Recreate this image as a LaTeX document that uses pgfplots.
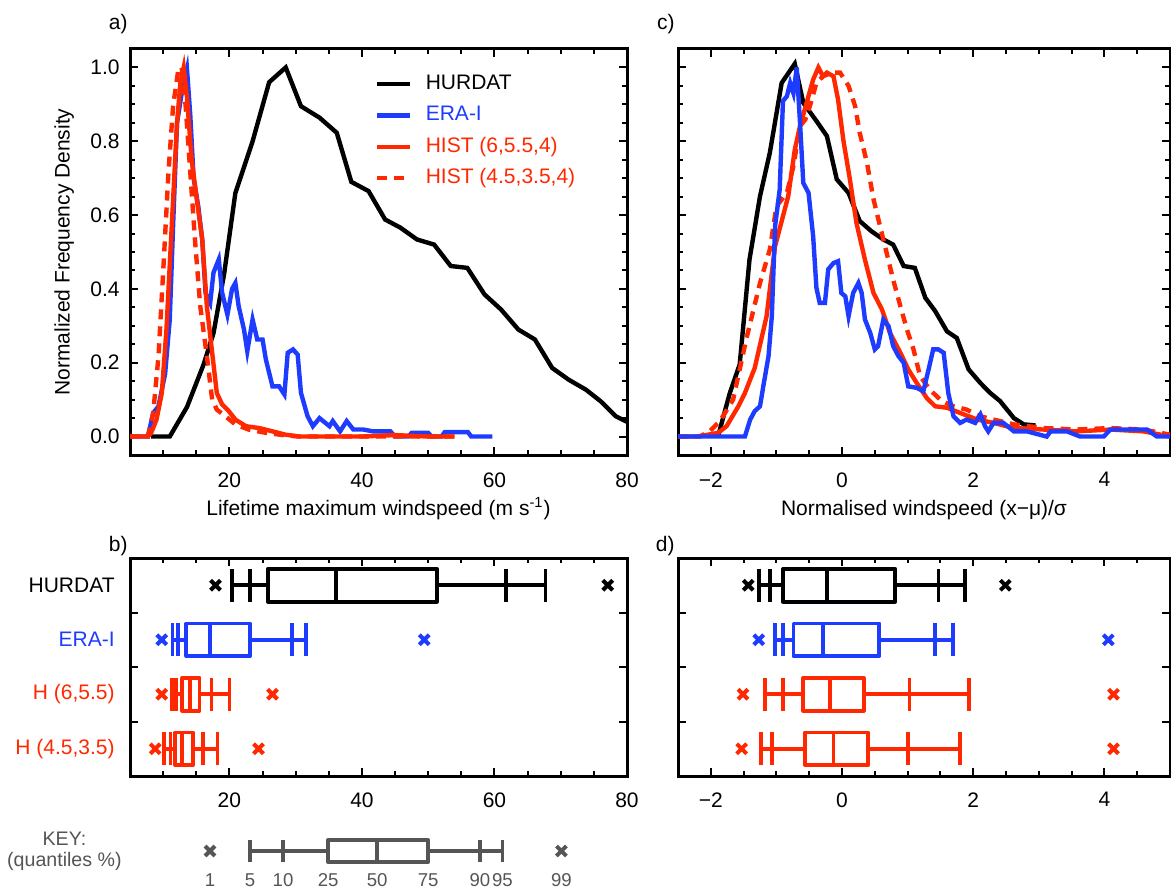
\documentclass[border=0pt]{standalone}
\usepackage{fontspec}
\setmainfont{Liberation Sans}
\usepackage{pgfplots}
\pgfplotsset{compat=1.18}

\definecolor{eraBlue}{RGB}{30,60,255}
\definecolor{histRed}{RGB}{255,40,0}
\definecolor{keyGray}{RGB}{85,85,85}

\pgfplotsset{
  /pgf/number format/assume math mode=true,
  panel/.style={scale only axis, anchor=south west,
    axis line style={line width=1.5pt},
    tick style={line width=1pt, black},
    tick align=inside, major tick length=4pt, minor tick length=2.5pt,
    clip mode=individual},
  curve/.style={line width=2.2pt},
}

% quantile box: colour, row, {q1,q5,q10,q25,q50,q75,q90,q95,q99}
\def\hh{0.3}
\def\qlw{1.9pt}
\def\setq#1,#2,#3,#4,#5,#6,#7,#8,#9\qend{\def\qa{#1}\def\qb{#2}\def\qc{#3}\def\qd{#4}\def\qe{#5}\def\qf{#6}\def\qg{#7}\def\qh{#8}\def\qi{#9}}
\newcommand\qbox[3]{%
  \setq#3\qend
  \pgfmathsetmacro\qlo{#2-\hh}%
  \pgfmathsetmacro\qup{#2+\hh}%
  \edef\qtmp{%
    \noexpand\addplot[#1, line width=\qlw, unbounded coords=jump] coordinates {(\qb,#2) (\qd,#2) (\qd,nan) (\qf,#2) (\qh,#2) (\qh,nan) (\qb,\qlo) (\qb,\qup) (\qb,nan) (\qc,\qlo) (\qc,\qup) (\qc,nan) (\qg,\qlo) (\qg,\qup) (\qg,nan) (\qh,\qlo) (\qh,\qup) (\qh,nan) (\qe,\qlo) (\qe,\qup)};%
    \noexpand\addplot[#1, line width=\qlw, line join=round] coordinates {(\qd,\qlo) (\qf,\qlo) (\qf,\qup) (\qd,\qup)} -- cycle;%
    \noexpand\addplot[#1, only marks, mark=x, mark size=3.5pt, mark options={line width=2pt}] coordinates {(\qa,#2) (\qi,#2)};%
  }\qtmp}

\begin{document}
\fontsize{10.5}{12.6}\selectfont
\begin{tikzpicture}
\useasboundingbox (0,0) rectangle (585.5pt,445pt);

% ---------- a) ----------
\begin{axis}[panel, at={(65pt,217.5pt)}, width=248.5pt, height=203pt,
  xmin=5, xmax=80, ymin=-0.05, ymax=1.05,
  xtick={20,40,60,80}, minor xtick={5,10,...,80},
  ytick={0,0.2,0.4,0.6,0.8,1.0}, yticklabels={0.0,0.2,0.4,0.6,0.8,1.0},
  minor ytick={0,0.05,...,1.01},
  xticklabel style={yshift=-5pt}, yticklabel style={xshift=-1.5pt},
  xlabel={Lifetime maximum windspeed (m s\textsuperscript{-1})},
  xlabel style={at={(axis description cs:0.5,0)}, anchor=base, yshift=-30pt},
  ylabel={Normalized Frequency Density},
  ylabel style={at={(axis description cs:-0.1217,0.5)}, anchor=base},
  legend cell align=left,
  legend image code/.code={\draw[#1] (0pt,0pt) -- (16.5pt,0pt);},
  legend style={at={(0.491,0.948)}, anchor=north west, draw=none, fill=none,
    inner sep=0pt, row sep=2.2pt, column sep=5.5pt,
    nodes={inner sep=1.5pt, text height=0.75em, text depth=0.25em}},
]
\addplot[curve, black] coordinates {(8.2,0) (11.0,0) (13.6,0.08) (16.1,0.195) (17.6,0.28) (19.2,0.44) (20.9,0.66) (23.5,0.80) (26.0,0.96) (28.5,1.0) (30.8,0.895) (33.6,0.864) (36.2,0.823) (38.4,0.69) (41.0,0.665) (43.5,0.588) (45.8,0.566) (48.3,0.534) (50.9,0.52) (53.4,0.462) (55.9,0.457) (58.5,0.385) (61.0,0.344) (63.6,0.29) (66.1,0.263) (68.7,0.186) (71.2,0.154) (73.8,0.127) (76.0,0.096) (78.3,0.055) (80,0.04)};
\addlegendentry{HURDAT}
\addplot[curve, eraBlue] coordinates {(5,0) (7.7,0) (8.5,0.064) (9.3,0.082) (10.3,0.17) (11.0,0.317) (11.5,0.57) (12.1,0.85) (12.8,0.93) (13.6,0.995) (14.1,0.87) (14.6,0.70) (15.3,0.624) (15.9,0.534) (16.4,0.389) (17.1,0.362) (17.6,0.444) (18.4,0.48) (18.9,0.39) (19.7,0.33) (20.4,0.40) (20.9,0.416) (21.4,0.353) (22.2,0.29) (22.7,0.231) (23.5,0.317) (24.2,0.263) (25.0,0.263) (25.5,0.209) (26.5,0.136) (27.5,0.136) (28.3,0.114) (28.8,0.227) (29.6,0.236) (30.3,0.222) (30.8,0.118) (31.8,0.055) (32.6,0.028) (33.6,0.05) (35.1,0.028) (35.6,0.042) (36.7,0.014) (37.7,0.042) (38.7,0.019) (40.2,0.019) (41.7,0.014) (44.3,0.014) (45.0,0) (47,0) (47.5,0.01) (50,0.01) (50.5,0) (52,0) (52.5,0.012) (56,0.012) (56.5,0) (59.7,0)};
\addlegendentry{\textcolor{eraBlue}{ERA-I}}
\addplot[curve, histRed] coordinates {(5,0) (7.7,0) (8.2,0.01) (9.0,0.046) (9.8,0.118) (10.5,0.29) (11.3,0.57) (12.1,0.85) (12.6,0.958) (13.1,1.0) (13.6,0.92) (14.3,0.75) (15.1,0.64) (15.9,0.534) (16.6,0.353) (17.4,0.227) (18.1,0.118) (18.9,0.087) (19.9,0.069) (20.9,0.046) (22.5,0.028) (24.5,0.023) (26.5,0.014) (28.5,0.005) (30.6,0) (40,0) (45,0.004) (50,0) (54,0)};
\addlegendentry{\textcolor{histRed}{HIST (6,5.5,4)}}
\addplot[curve, histRed, dash pattern=on 5pt off 3.5pt] coordinates {(5,0) (7.7,0) (8.5,0.064) (9.3,0.218) (10.0,0.444) (10.8,0.715) (11.5,0.895) (12.3,0.995) (12.8,1.0) (13.4,0.895) (14.1,0.715) (14.8,0.534) (15.6,0.353) (16.6,0.218) (17.4,0.1) (18.1,0.073) (19.4,0.055) (20.9,0.033) (22.9,0.019) (25.5,0.01) (28.5,0.003) (30.6,0) (54,0)};
\addlegendentry{\textcolor{histRed}{HIST (4.5,3.5,4)}}
\node[anchor=base east, inner sep=0pt, xshift=-1pt, yshift=9.5pt] at (rel axis cs:0,1) {a)};
\end{axis}

% ---------- c) ----------
\begin{axis}[panel, at={(339pt,217.5pt)}, width=246pt, height=203pt,
  xmin=-2.5, xmax=5, ymin=-0.05, ymax=1.05,
  xtick={-2,0,2,4}, xticklabels={−2,0,2,4}, minor xtick={-2.5,-2,...,5},
  ytick={0,0.2,0.4,0.6,0.8,1.0}, yticklabels={},
  minor ytick={0,0.05,...,1.01},
  xticklabel style={yshift=-5pt},
  xlabel={Normalised windspeed (x−μ)/σ},
  xlabel style={at={(axis description cs:0.5,0)}, anchor=base, yshift=-30pt},
]
\addplot[curve, black] coordinates {(-1.89,0) (-1.71,0.118) (-1.56,0.195) (-1.41,0.48) (-1.25,0.651) (-1.10,0.769) (-0.92,0.958) (-0.72,1.01) (-0.59,0.904) (-0.39,0.855) (-0.23,0.814) (-0.08,0.697) (0.10,0.66) (0.27,0.584) (0.45,0.556) (0.63,0.534) (0.78,0.52) (0.94,0.462) (1.11,0.457) (1.27,0.376) (1.42,0.34) (1.60,0.285) (1.75,0.267) (1.93,0.182) (2.11,0.145) (2.26,0.118) (2.41,0.096) (2.62,0.05) (2.77,0.033) (2.95,0.03)};
\addplot[curve, histRed] coordinates {(-2.5,0) (-2.2,0) (-1.89,0.01) (-1.76,0.028) (-1.58,0.082) (-1.48,0.118) (-1.33,0.186) (-1.15,0.326) (-1.02,0.516) (-0.82,0.651) (-0.72,0.777) (-0.64,0.841) (-0.54,0.904) (-0.44,0.967) (-0.36,1.0) (-0.29,0.976) (-0.23,0.986) (-0.13,0.976) (-0.06,0.913) (0.02,0.804) (0.12,0.697) (0.22,0.579) (0.35,0.479) (0.48,0.389) (0.61,0.344) (0.73,0.281) (0.89,0.227) (1.01,0.182) (1.14,0.145) (1.29,0.105) (1.42,0.082) (1.60,0.078) (1.80,0.064) (2.06,0.046) (2.31,0.037) (2.62,0.023) (3.07,0.019) (3.58,0.014) (4.09,0.019) (4.60,0.014) (5.0,0)};
\addplot[curve, histRed, dash pattern=on 5pt off 3.5pt] coordinates {(-2.5,0) (-2.17,0) (-2.02,0.014) (-1.86,0.042) (-1.66,0.1) (-1.46,0.263) (-1.25,0.416) (-1.10,0.507) (-1.0,0.624) (-0.84,0.66) (-0.74,0.733) (-0.64,0.841) (-0.56,0.859) (-0.49,0.895) (-0.39,0.958) (-0.29,0.976) (-0.16,0.986) (-0.03,0.986) (0.10,0.95) (0.20,0.895) (0.27,0.823) (0.38,0.742) (0.48,0.643) (0.58,0.57) (0.68,0.498) (0.78,0.425) (0.89,0.353) (0.99,0.29) (1.09,0.236) (1.19,0.164) (1.34,0.127) (1.52,0.096) (1.70,0.082) (1.90,0.073) (2.11,0.055) (2.31,0.046) (2.62,0.033) (3.07,0.023) (3.58,0.019) (4.09,0.023) (4.60,0.019) (5.0,0.005)};
\addplot[curve, eraBlue] coordinates {(-2.5,0) (-1.48,0) (-1.40,0.046) (-1.33,0.069) (-1.25,0.082) (-1.20,0.136) (-1.12,0.218) (-1.07,0.326) (-1.02,0.57) (-0.95,0.669) (-0.90,0.909) (-0.84,0.922) (-0.79,0.958) (-0.74,0.93) (-0.69,1.0) (-0.64,0.85) (-0.59,0.687) (-0.51,0.66) (-0.44,0.543) (-0.39,0.403) (-0.34,0.362) (-0.26,0.362) (-0.21,0.453) (-0.13,0.47) (-0.06,0.475) (-0.01,0.389) (0.05,0.38) (0.10,0.326) (0.17,0.389) (0.25,0.416) (0.30,0.389) (0.35,0.317) (0.43,0.281) (0.50,0.236) (0.55,0.245) (0.63,0.317) (0.71,0.299) (0.78,0.245) (0.86,0.218) (0.94,0.2) (1.01,0.136) (1.14,0.132) (1.24,0.123) (1.32,0.182) (1.39,0.236) (1.47,0.236) (1.55,0.227) (1.62,0.118) (1.70,0.055) (1.80,0.037) (1.90,0.046) (2.03,0.037) (2.11,0.06) (2.18,0.028) (2.23,0.014) (2.31,0.037) (2.46,0.037) (2.62,0.014) (2.82,0.014) (3.12,0) (3.18,0.014) (3.43,0.014) (3.63,0) (3.99,0) (4.09,0.019) (4.65,0.019) (4.80,0) (5.0,0)};
\node[anchor=base east, inner sep=0pt, xshift=-1.5pt, yshift=9.5pt] at (rel axis cs:0,1) {c)};
\end{axis}

% ---------- b) ----------
\begin{axis}[panel, at={(65pt,57pt)}, width=248.5pt, height=109pt,
  xmin=5, xmax=80, ymin=0.5, ymax=4.5, y dir=reverse,
  xtick={20,40,60,80}, minor xtick={5,10,...,80},
  ytick={1.5,2.5,3.5}, yticklabels={},
  extra y ticks={1,2,3,4},
  extra y tick labels={HURDAT, {\textcolor{eraBlue}{ERA-I}}, {\textcolor{histRed}{H (6,5.5)}}, {\textcolor{histRed}{H (4.5,3.5)}}},
  extra y tick style={major tick length=0pt, yticklabel style={xshift=-4pt}},
  xticklabel style={yshift=-4.5pt},
]
\qbox{black}{1}{17.9,20.4,23.1,25.8,36.1,51.3,61.7,67.7,77.1}
\qbox{eraBlue}{2}{9.8,11.4,12.2,13.5,17.1,23.1,29.5,31.5,49.4}
\qbox{histRed}{3}{9.8,11.3,12.0,12.9,14.0,15.5,17.3,20.0,26.5}
\qbox{histRed}{4}{8.8,10.1,11.1,11.8,12.8,14.5,16.0,18.2,24.4}
\node[anchor=base east, inner sep=0pt, xshift=-1pt, yshift=3.5pt] at (rel axis cs:0,1) {b)};
\end{axis}

% ---------- d) ----------
\begin{axis}[panel, at={(339pt,57pt)}, width=246pt, height=109pt,
  xmin=-2.5, xmax=5, ymin=0.5, ymax=4.5, y dir=reverse,
  xtick={-2,0,2,4}, xticklabels={−2,0,2,4}, minor xtick={-2.5,-2,...,5},
  ytick={1.5,2.5,3.5}, yticklabels={},
  xticklabel style={yshift=-4.5pt},
]
\qbox{black}{1}{-1.43,-1.27,-1.10,-0.90,-0.23,0.81,1.47,1.87,2.49}
\qbox{eraBlue}{2}{-1.27,-1.02,-0.90,-0.74,-0.29,0.57,1.42,1.69,4.06}
\qbox{histRed}{3}{-1.51,-1.18,-0.90,-0.59,-0.18,0.33,1.03,1.93,4.14}
\qbox{histRed}{4}{-1.53,-1.24,-1.07,-0.56,-0.13,0.40,1.00,1.80,4.14}
\node[anchor=base east, inner sep=0pt, xshift=-1.5pt, yshift=3.5pt] at (rel axis cs:0,1) {d)};
\end{axis}

% ---------- key ----------
\begin{axis}[scale only axis, anchor=south west, at={(65pt,9.5pt)}, width=248.5pt, height=20pt,
  xmin=5, xmax=80, ymin=-1, ymax=1, clip=false,
  axis line style={draw=none}, tick style={draw=none}, major tick length=0pt,
  xtick={17.07,23.1,28.1,34.9,42.3,50.0,57.8,61.2,70.1},
  xticklabels={1,5,10,25,50,75,90,95,99},
  xticklabel style={text=keyGray, font=\fontsize{9.3}{10}\selectfont, yshift=2.5pt},
  ytick={0}, yticklabels={{KEY:\\(quantiles \%)}},
  yticklabel style={align=center, text=keyGray, font=\fontsize{9.8}{10.5}\selectfont, xshift=-0.5pt},
]
\def\hh{0.55}
\qbox{keyGray}{0}{17.07,23.1,28.1,34.9,42.3,50.0,57.8,61.2,70.1}
\end{axis}
\end{tikzpicture}
\end{document}
